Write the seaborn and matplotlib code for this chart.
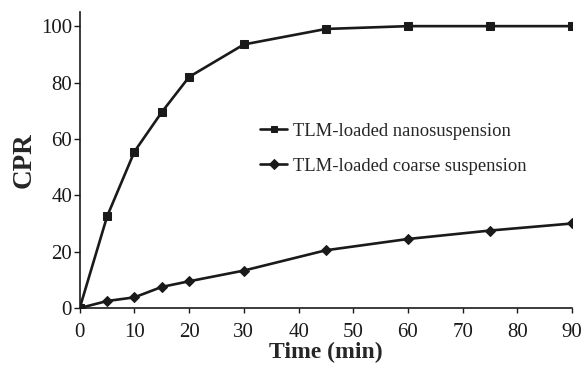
import pandas as pd
import numpy as np
import matplotlib
matplotlib.use('Agg')
import matplotlib.pyplot as plt
import seaborn as sns

# Dissolution data
time_min = [0, 5, 10, 15, 20, 30, 45, 60, 75, 90]
nano_cpr = [0, 32.5, 55.5, 69.5, 82, 93.5, 99, 100, 100, 100]
coarse_cpr = [0, 2.5, 3.8, 7.5, 9.5, 13.3, 20.5, 24.5, 27.5, 30]
series_names = ['TLM-loaded nanosuspension', 'TLM-loaded coarse suspension']

df = pd.DataFrame({
    'Time': time_min * 2,
    'CPR': nano_cpr + coarse_cpr,
    'Formulation': [series_names[0]] * len(time_min) + [series_names[1]] * len(time_min),
})

sns.set_style('ticks')
plt.rcParams['font.family'] = ['Liberation Serif', 'DejaVu Serif']

fig = plt.figure(figsize=(5.82, 3.65), dpi=100)
ax = fig.add_axes([0.137, 0.156, 0.846, 0.811])

sns.lineplot(data=df, x='Time', y='CPR', hue='Formulation', style='Formulation',
             palette=['#1a1a1a', '#1a1a1a'], markers={series_names[0]: 's', series_names[1]: 'D'},
             dashes=False, linewidth=1.9, markersize=5.5, markeredgecolor='#1a1a1a', ax=ax)

ax.set_xlim(0, 90)
ax.set_ylim(0, 105)
ax.set_xticks(np.arange(0, 91, 10))
ax.set_yticks(np.arange(0, 101, 20))
ax.tick_params(labelsize=15, width=1, colors='#1a1a1a')
ax.tick_params(axis='y', length=4.5, pad=1)
ax.tick_params(axis='x', length=3.5, pad=7.5)
ax.set_xlabel('Time (min)', fontsize=17, fontweight='bold', labelpad=0)
ax.set_ylabel('CPR', fontsize=19.5, fontweight='bold', labelpad=3)
sns.despine(ax=ax)
for s in ['left', 'bottom']:
    ax.spines[s].set_linewidth(1.2)
    ax.spines[s].set_color('#1a1a1a')

leg = ax.legend(title=None, frameon=False, loc='upper left', bbox_to_anchor=(0.333, 0.682),
                fontsize=13.4, handlelength=1.45, handletextpad=0.3, labelspacing=0.95)
for h in leg.legend_handles:
    h.set_markersize(5)

fig.savefig('out.png', dpi=100)
